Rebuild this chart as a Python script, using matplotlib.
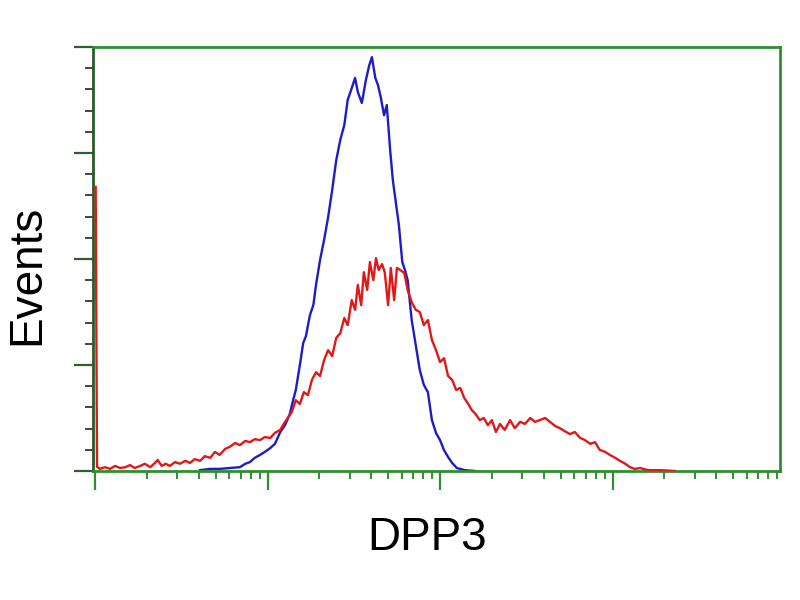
import matplotlib
matplotlib.use("Agg")
import matplotlib.pyplot as plt
import numpy as np
from matplotlib.ticker import LogLocator, MultipleLocator, NullFormatter

plt.rcParams["font.family"] = ["Liberation Sans", "DejaVu Sans"]

# channels on a 4-decade log scale (256 channels per decade), counts per channel
blue_ch = [156, 171, 185, 200, 215, 223, 230, 237, 245, 252, 260, 267, 275, 282,
           289, 294, 298, 304, 309, 313, 319, 324, 328, 334, 340, 346, 352, 358,
           364, 370, 375, 381, 386, 390, 396, 402, 407, 411, 416, 420, 424, 429,
           433, 438, 442, 447, 451, 456, 460, 464, 470, 476, 482, 488, 494, 500,
           506, 512, 518, 524, 530, 537, 549, 564]
blue_counts = [0.2, 0.5, 0.5, 0.7, 0.9, 1.7, 2.1, 3.1, 3.8, 4.5, 5.4, 6.4, 9.2, 10.8,
               13.4, 16.7, 19.1, 25.0, 30.2, 31.8, 36.8, 39.1, 43.9, 49.8, 54.5, 59.9, 66.3, 73.3,
               78.1, 81.6, 87.5, 90.3, 92.7, 89.4, 86.8, 92.2, 95.7, 97.6, 92.7, 91.0, 88.2, 83.9,
               86.3, 75.7, 68.6, 62.7, 58.0, 49.3, 47.4, 45.0, 35.6, 29.7, 23.8, 20.3, 18.6, 12.0,
               9.0, 7.3, 4.9, 3.3, 1.9, 0.7, 0.2, 0.0]

red_ch = [1, 2, 3, 7, 15, 22, 30, 37, 45, 52, 59, 67, 74, 82, 89, 93, 99, 105, 111, 119,
          126, 134, 141, 148, 156, 163, 171, 178, 185, 193, 200, 208, 215, 223, 230,
          237, 245, 252, 260, 267, 275, 280, 286, 292, 298, 304, 310, 316, 322, 328,
          334, 340, 346, 352, 358, 364, 370, 375, 381, 386, 390, 395, 399, 404, 408,
          413, 417, 421, 426, 430, 435, 439, 444, 448, 453, 459, 464, 470, 476, 482,
          488, 494, 500, 506, 512, 518, 524, 530, 536, 542, 548, 554, 559, 565, 571,
          577, 583, 589, 595, 601, 608, 616, 623, 631, 638, 646, 653, 660, 668, 675,
          683, 690, 697, 705, 712, 720, 727, 735, 742, 749, 757, 764, 772, 779, 787,
          794, 801, 809, 821, 838, 861]
red_counts = [67.0, 33.0, 1.0, 0.5, 0.9, 0.5, 1.2, 0.7, 0.9, 1.4, 0.7, 1.2, 1.7, 0.9, 1.9, 2.6, 1.2, 1.7, 1.2, 2.1,
              1.7, 2.4, 1.9, 2.8, 2.4, 3.5, 3.1, 4.5, 3.8, 5.2, 5.7, 6.6, 6.1, 7.1, 6.8,
              7.5, 7.3, 8.0, 7.8, 9.0, 9.7, 11.1, 12.5, 13.9, 16.7, 15.8, 18.6, 17.9, 21.5, 23.3,
              22.4, 26.2, 28.5, 27.1, 31.4, 32.5, 36.1, 34.4, 40.3, 38.0, 43.9, 39.1, 46.9, 42.7, 49.3,
              45.0, 50.2, 47.4, 48.8, 46.9, 39.1, 47.9, 40.3, 47.9, 47.4, 46.7, 42.7, 39.8, 38.0, 37.5,
              34.4, 35.6, 30.9, 28.5, 25.7, 26.6, 22.4, 21.5, 19.1, 19.6, 17.2, 15.8, 14.4, 13.4, 12.0,
              12.5, 10.8, 12.0, 9.2, 11.1, 9.7, 12.0, 10.1, 11.6, 11.1, 12.5, 11.6, 12.0, 12.5, 11.6,
              10.6, 10.1, 9.4, 8.7, 9.2, 7.8, 7.3, 6.4, 6.8, 5.0, 4.5, 3.8, 3.1, 2.4, 1.7,
              0.9, 0.5, 0.7, 0.2, 0.2, 0.0]

GREEN = "#2f8f2f"


def to_intensity(channels):
    return 10 ** (np.asarray(channels) / 256.0)


fig = plt.figure(figsize=(8, 6), dpi=100)
ax = fig.add_axes([93 / 800, 129 / 600, 687 / 800, 424 / 600])

ax.plot(to_intensity(blue_ch), blue_counts, color="#1c1cc8", linewidth=1.7)
ax.plot(to_intensity(red_ch), red_counts, color="#e01818", linewidth=1.7, zorder=3)

ax.set_xscale("log")
ax.set_xlim(10 ** -0.0116, 10 ** 3.971)
ax.set_ylim(0, 100)

ax.xaxis.set_major_locator(LogLocator(base=10, numticks=10))
ax.xaxis.set_minor_locator(LogLocator(base=10, subs=np.arange(2, 10), numticks=20))
ax.xaxis.set_major_formatter(NullFormatter())
ax.xaxis.set_minor_formatter(NullFormatter())
ax.yaxis.set_major_locator(MultipleLocator(25))
ax.yaxis.set_minor_locator(MultipleLocator(5))
ax.yaxis.set_major_formatter(NullFormatter())

ax.tick_params(axis="both", which="major", direction="out", length=14, width=1.6, color="#2f5f2f")
ax.tick_params(axis="both", which="minor", direction="out", length=6, width=1.4, color="#3a4a3a")
ax.tick_params(axis="x", which="both", color=GREEN)

for side in ["top", "right", "bottom"]:
    ax.spines[side].set_color(GREEN)
    ax.spines[side].set_linewidth(2)
ax.spines["left"].set_color("#2a5a2a")
ax.spines["left"].set_linewidth(2)
ax.spines["left"].set_zorder(2)

fig.text(427 / 800, 1 - 538 / 600, "DPP3", fontsize=33, ha="center", va="center")
fig.text(27 / 800, 1 - 275 / 600, "Events", fontsize=33, rotation=90, ha="center", va="center")

fig.savefig("out.png", dpi=100)
